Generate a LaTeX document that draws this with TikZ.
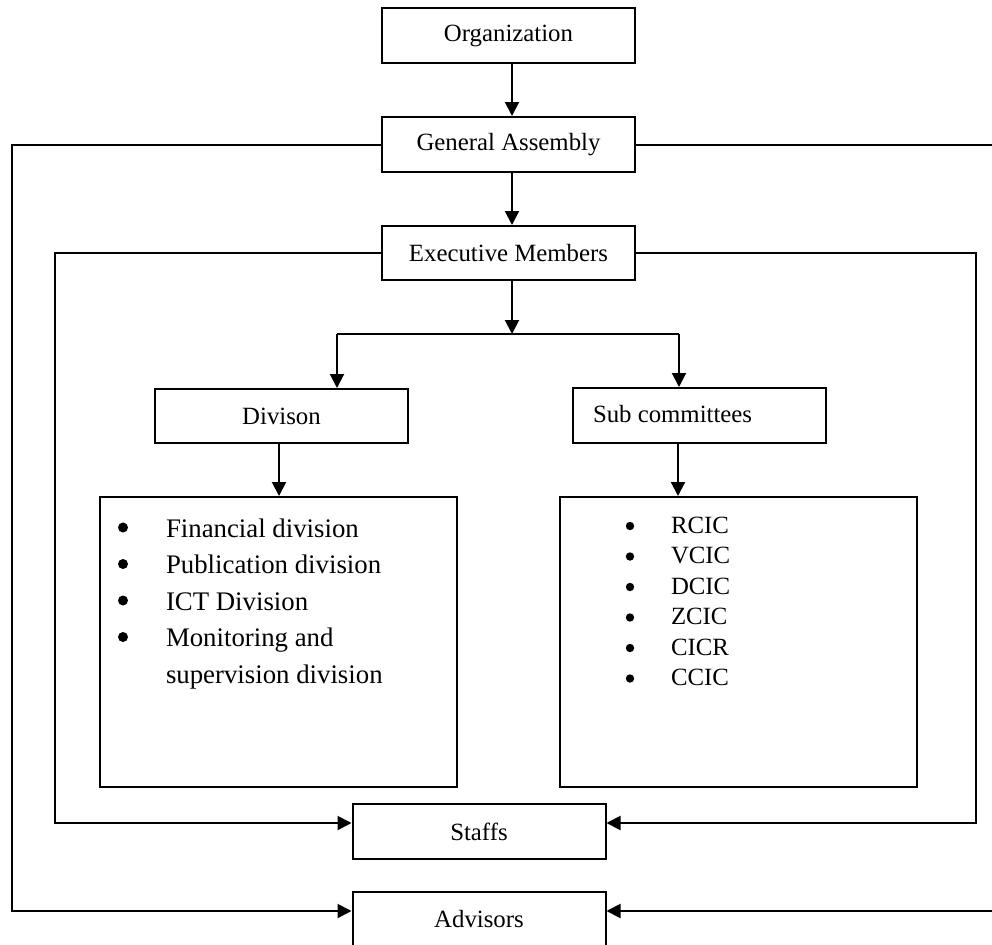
\documentclass[tikz,border=0pt]{standalone}
\usepackage{fontspec}
\setmainfont{Liberation Serif}
\usetikzlibrary{arrows.meta}

\begin{document}
\begin{tikzpicture}[x=0.5pt,y=-0.5pt,
  line width=1pt,
  box/.style={draw, line width=1pt, inner sep=0pt, minimum width=126.5pt, minimum height=27.5pt,
              font=\fontsize{12.4}{14}\selectfont},
  listbox/.style={draw, line width=1pt, inner sep=0pt, minimum width=178.5pt, minimum height=145pt},
  arr/.style={-{Triangle[length=7pt,width=7pt]}},
  bigitem/.style={anchor=base west, inner sep=0pt, font=\fontsize{13.4}{15}\selectfont},
  bigdot/.style={circle, fill=black, inner sep=0pt, minimum size=5pt},
  smallitem/.style={anchor=base west, inner sep=0pt, font=\fontsize{12.4}{14}\selectfont},
  smalldot/.style={circle, fill=black, inner sep=0pt, minimum size=4.2pt},
  label/.style={anchor=base west, inner sep=0pt, font=\fontsize{12.4}{14}\selectfont}]

\useasboundingbox (0,0) rectangle (992,944);
\clip (0,0) rectangle (992,944);

% main boxes
\node[box] (org)   at (508.5,35.5)  {Organization};
\node[box] (ga)    at (508.5,144.5) {General Assembly};
\node[box, minimum height=27pt] (exec) at (508.5,253) {Executive Members};
\node[box, minimum height=27pt] (div)  at (281.5,416) {Divison};
\node[box] (sub)   at (699.5,415.5) {};
\node[label] (subtext) at (592,422) {Sub committees};
\node[box] (staffs) at (479,831.5) {Staffs};
\node[box] (adv)    at (479,919.5) {Advisors};

% list boxes
\node[listbox] (leftlist)  at (278.5,642) {};
\node[listbox] (rightlist) at (738.5,642) {};

% divisions
\node[bigdot]  (d1) at (123,527.5) {};
\node[bigitem] (i1) at (165,537)   {Financial division};
\node[bigdot]  (d2) at (123,564)   {};
\node[bigitem] (i2) at (165,573.5) {Publication division};
\node[bigdot]  (d3) at (123,600.5) {};
\node[bigitem] (i3) at (165,610)   {ICT Division};
\node[bigdot]  (d4) at (123,637)   {};
\node[bigitem] (i4) at (165,646.5) {Monitoring and};
\node[bigitem] (i5) at (165,683)   {supervision division};

% sub committees
\node[smalldot]  (s1) at (630,526)   {};
\node[smallitem] (c1) at (670,533)   {RCIC};
\node[smalldot]  (s2) at (630,556.5) {};
\node[smallitem] (c2) at (670,563.5) {VCIC};
\node[smalldot]  (s3) at (630,587)   {};
\node[smallitem] (c3) at (670,594)   {DCIC};
\node[smalldot]  (s4) at (630,617.5) {};
\node[smallitem] (c4) at (670,624.5) {ZCIC};
\node[smalldot]  (s5) at (630,648)   {};
\node[smallitem] (c5) at (670,655)   {CICR};
\node[smalldot]  (s6) at (630,678.5) {};
\node[smallitem] (c6) at (670,685.5) {CCIC};

% guide coordinates
\coordinate (spine)  at (512,0);
\coordinate (outerL) at (12,0);
\coordinate (outerR) at (996,0);
\coordinate (innerL) at (55,0);
\coordinate (innerR) at (976,0);
\coordinate (branch) at (512,334);
\coordinate (bl) at (337,334);
\coordinate (br) at (679,334);
\coordinate (scol) at (678,0);
\coordinate (dcol) at (279,0);
\coordinate (advL) at ([yshift=4.25pt]adv.west);
\coordinate (advR) at ([yshift=4.25pt]adv.east);
\coordinate (stL)  at ([yshift=4.25pt]staffs.west);
\coordinate (stR)  at ([yshift=4.25pt]staffs.east);

% vertical spine
\draw[arr] (org.south -| spine) -- (ga.north -| spine);
\draw[arr] (ga.south -| spine) -- (exec.north -| spine);
\draw[arr] (exec.south -| spine) -- (branch);

% branch to division and sub committees
\draw (bl) -- (br);
\draw[arr] (bl) -- (div.north -| bl);
\draw[arr] (br) -- (sub.north -| br);
\draw[arr] (div.south -| dcol) -- (leftlist.north -| dcol);
\draw[arr] (sub.south -| scol) -- (rightlist.north -| scol);

% general assembly to advisors
\draw[arr] (ga.west) -- (ga.west -| outerL) |- (advL);
\draw (ga.east) -- (ga.east -| outerR);
\draw[arr] (advR -| outerR) -- (advR);

% executive members to staffs
\draw[arr] (exec.west) -- (exec.west -| innerL) |- (stL);
\draw[arr] (exec.east) -- (exec.east -| innerR) |- (stR);

\end{tikzpicture}
\end{document}
